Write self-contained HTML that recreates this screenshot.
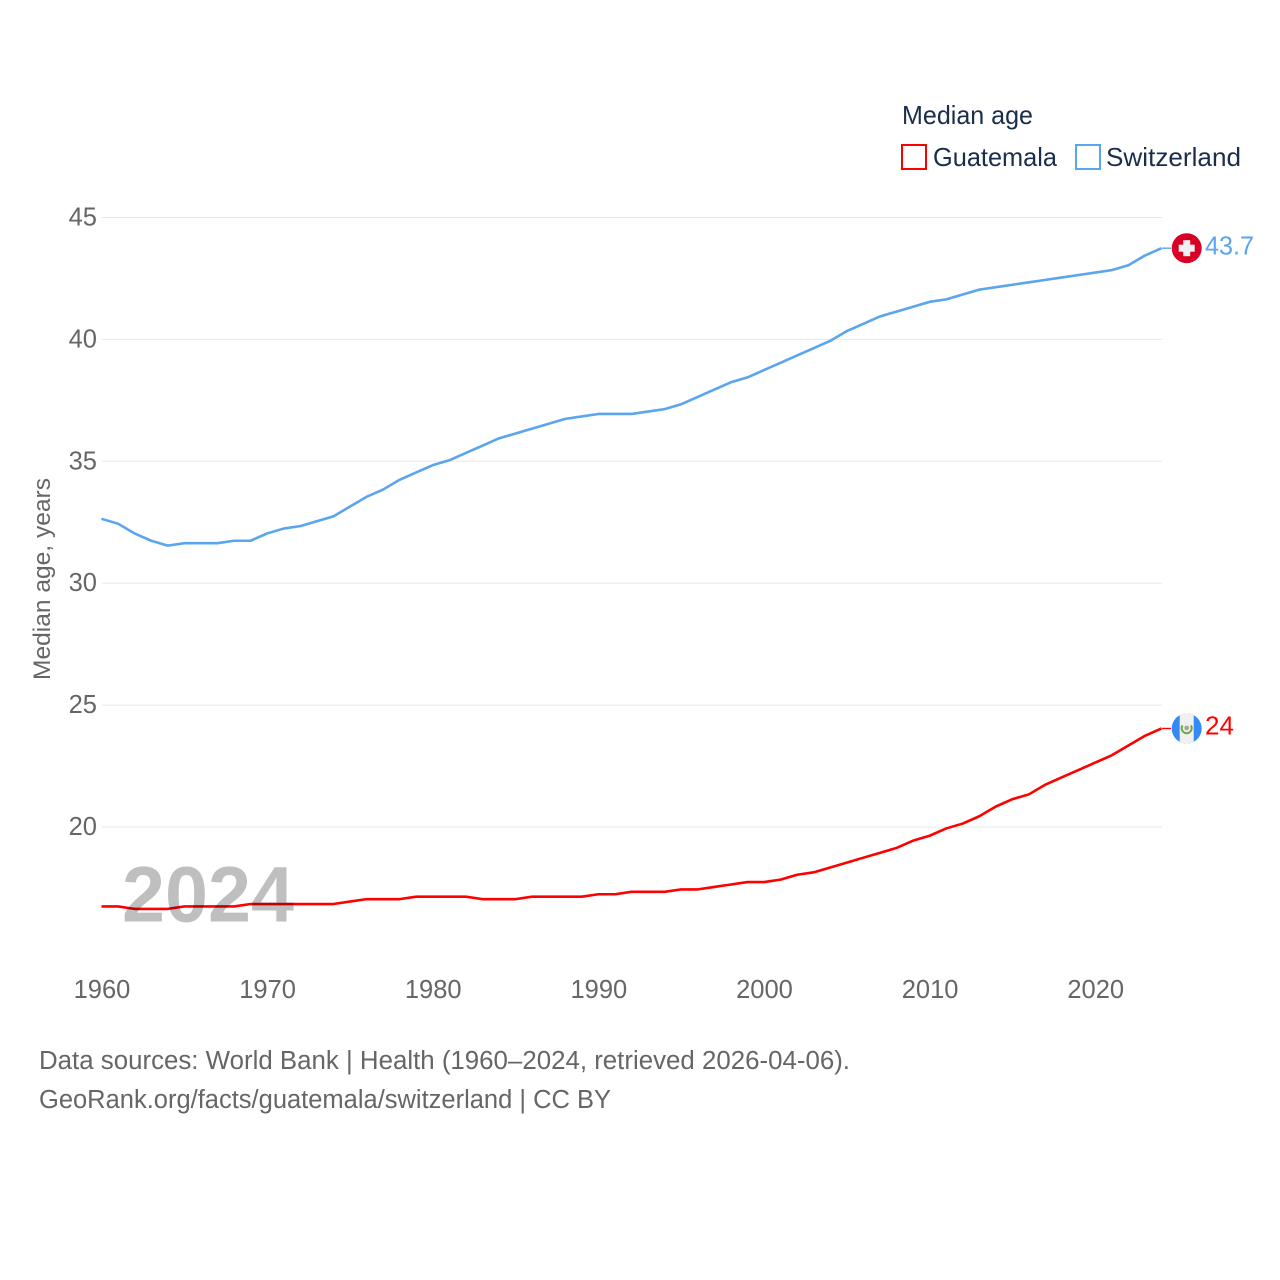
<!DOCTYPE html>
<html lang="en">
<head>
<meta charset="utf-8">
<title>Median age: Guatemala and Switzerland</title>
<style>
html,body{margin:0;padding:0;background:#fff;}
svg{display:block;}
text{font-family:"Liberation Sans",sans-serif;}
</style>
</head>
<body>
<svg id="chart" xmlns="http://www.w3.org/2000/svg" width="1280" height="1280" viewBox="0 0 1280 1280">
  <rect x="0" y="0" width="1280" height="1280" fill="#fff"/>
  <g id="grid"></g>
  <g id="yticks"></g>
  <g id="xticks"></g>
  <text transform="translate(50,579) rotate(-90)" text-anchor="middle" font-size="24.5" fill="#666" textLength="202" lengthAdjust="spacingAndGlyphs">Median age, years</text>
  <g id="series" transform="translate(-0.5,-1)"></g>
  <text x="122" y="921.5" font-size="79" font-weight="700" fill="#000" fill-opacity="0.25" textLength="172" lengthAdjust="spacingAndGlyphs">2024</text>

  <g>
    <text x="902" y="124" font-size="26" fill="#1a2e4c" textLength="131" lengthAdjust="spacingAndGlyphs">Median age</text>
    <rect x="902" y="145" width="24" height="24" fill="#fff" stroke="#ff0000" stroke-width="2"/>
    <text x="933" y="166" font-size="26" fill="#1a2e4c" textLength="124" lengthAdjust="spacingAndGlyphs">Guatemala</text>
    <rect x="1076" y="145" width="24" height="24" fill="#fff" stroke="#5ba4ee" stroke-width="2"/>
    <text x="1106" y="166" font-size="26" fill="#1a2e4c" textLength="135" lengthAdjust="spacingAndGlyphs">Switzerland</text>
  </g>

  <g id="flag-ch" transform="translate(0,-1)"></g>
  <g id="flag-gt" transform="translate(0,-1)"></g>

  <g>
    <text x="39" y="1069" font-size="25.5" fill="#666" textLength="811" lengthAdjust="spacingAndGlyphs">Data sources: World Bank | Health (1960–2024, retrieved 2026-04-06).</text>
    <text x="39" y="1108" font-size="25.5" fill="#666" textLength="572" lengthAdjust="spacingAndGlyphs">GeoRank.org/facts/guatemala/switzerland | CC BY</text>
  </g>
</svg>
<script>
const startYear = 1960;
const endYear = 2024;
const yTickValues = [20, 25, 30, 35, 40, 45];
const xTickValues = [1960, 1970, 1980, 1990, 2000, 2010, 2020];
const switzerlandValues = [
  32.6, 32.4, 32.0, 31.7, 31.5, 31.6, 31.6, 31.6, 31.7, 31.7,
  32.0, 32.2, 32.3, 32.5, 32.7, 33.1, 33.5, 33.8, 34.2, 34.5,
  34.8, 35.0, 35.3, 35.6, 35.9, 36.1, 36.3, 36.5, 36.7, 36.8,
  36.9, 36.9, 36.9, 37.0, 37.1, 37.3, 37.6, 37.9, 38.2, 38.4,
  38.7, 39.0, 39.3, 39.6, 39.9, 40.3, 40.6, 40.9, 41.1, 41.3,
  41.5, 41.6, 41.8, 42.0, 42.1, 42.2, 42.3, 42.4, 42.5, 42.6,
  42.7, 42.8, 43.0, 43.4, 43.7
];
const guatemalaValues = [
  16.7, 16.7, 16.6, 16.6, 16.6, 16.7, 16.7, 16.7, 16.7, 16.8,
  16.8, 16.8, 16.8, 16.8, 16.8, 16.9, 17.0, 17.0, 17.0, 17.1,
  17.1, 17.1, 17.1, 17.0, 17.0, 17.0, 17.1, 17.1, 17.1, 17.1,
  17.2, 17.2, 17.3, 17.3, 17.3, 17.4, 17.4, 17.5, 17.6, 17.7,
  17.7, 17.8, 18.0, 18.1, 18.3, 18.5, 18.7, 18.9, 19.1, 19.4,
  19.6, 19.9, 20.1, 20.4, 20.8, 21.1, 21.3, 21.7, 22.0, 22.3,
  22.6, 22.9, 23.3, 23.7, 24.0
];

const NS = 'http://www.w3.org/2000/svg';
const plotLeft = 102;
const plotRight = 1162;
function xScale(year) {
  return plotLeft + (year - startYear) * (plotRight - plotLeft) / (endYear - startYear);
}
function yScale(value) {
  return 217.5 + (45 - value) * (827 - 217.5) / 25;
}
function make(tag, parent, attrs) {
  const el = document.createElementNS(NS, tag);
  for (const k in attrs) el.setAttribute(k, attrs[k]);
  parent.appendChild(el);
  return el;
}

const grid = document.getElementById('grid');
const yticks = document.getElementById('yticks');
const xticks = document.getElementById('xticks');
const series = document.getElementById('series');

yTickValues.forEach(function (v) {
  const line = make('line', grid, {x1: plotLeft, x2: plotRight, y1: yScale(v), y2: yScale(v), stroke: '#e8e8e8', 'stroke-width': 1});
  
  
  const label = make('text', yticks, {x: 97, y: yScale(v) + 8, 'text-anchor': 'end', 'font-size': 25.5, fill: '#666'});
  label.textContent = String(v);
  
  
});

xTickValues.forEach(function (y) {
  const label = make('text', xticks, {x: xScale(y), y: 998, 'text-anchor': 'middle', 'font-size': 25.5, fill: '#666'});
  label.textContent = String(y);
  
  
});

function pathFor(values) {
  return values.map(function (v, i) {
    return (i ? 'L' : 'M') + xScale(startYear + i).toFixed(2) + ' ' + yScale(v).toFixed(2);
  }).join(' ');
}

const switzerlandLine = make('path', series, {d: pathFor(switzerlandValues), fill: 'none', stroke: '#5ba4ee', 'stroke-width': 2.6, 'stroke-linejoin': 'round'});



const guatemalaLine = make('path', series, {d: pathFor(guatemalaValues), fill: 'none', stroke: '#ff0000', 'stroke-width': 2.6, 'stroke-linejoin': 'round'});



const lastCh = switzerlandValues[switzerlandValues.length - 1];
const lastGt = guatemalaValues[guatemalaValues.length - 1];
const markerX = 1186.7;

const flagCh = document.getElementById('flag-ch');
const yCh = yScale(lastCh);
const stubCh = make('line', flagCh, {x1: plotRight, x2: 1171, y1: yCh, y2: yCh, stroke: '#5ba4ee', 'stroke-width': 1.4});


const discCh = make('circle', flagCh, {cx: markerX, cy: yCh, r: 15, fill: '#d80027'});


const crossChH = make('rect', flagCh, {x: markerX - 8, y: yCh - 3.5, width: 16, height: 7, fill: '#f0f0f0'});


const crossChV = make('rect', flagCh, {x: markerX - 3.5, y: yCh - 8, width: 7, height: 16, fill: '#f0f0f0'});


const labelCh = make('text', flagCh, {x: 1205, y: yCh + 6.5, 'font-size': 26, fill: '#5ba4ee', textLength: 49, lengthAdjust: 'spacingAndGlyphs'});
labelCh.textContent = String(lastCh);



const flagGt = document.getElementById('flag-gt');
const yGt = yScale(lastGt);
const stubGt = make('line', flagGt, {x1: plotRight, x2: 1171, y1: yGt, y2: yGt, stroke: '#ff0000', 'stroke-width': 1.4});


const discGt = make('circle', flagGt, {cx: markerX, cy: yGt, r: 15, fill: '#338af3'});


const bandGt = make('path', flagGt, {d: 'M' + (markerX - 7) + ' ' + (yGt - 13.3) + ' A15 15 0 0 1 ' + (markerX + 7) + ' ' + (yGt - 13.3) + ' V' + (yGt + 13.3) + ' A15 15 0 0 1 ' + (markerX - 7) + ' ' + (yGt + 13.3) + ' Z', fill: '#f0f0f0'});


const wreathGt = make('path', flagGt, {d: 'M' + (markerX - 4.2) + ' ' + (yGt - 3) + ' A5 5 0 1 0 ' + (markerX + 4.2) + ' ' + (yGt - 3), fill: 'none', stroke: '#6da544', 'stroke-width': 2});


const scrollGt = make('circle', flagGt, {cx: markerX, cy: yGt - 0.5, r: 2.4, fill: '#a8a595'});


const labelGt = make('text', flagGt, {x: 1205, y: yGt + 6, 'font-size': 26, fill: '#ff0000', textLength: 29, lengthAdjust: 'spacingAndGlyphs'});
labelGt.textContent = String(lastGt);


</script>
</body>
</html>
